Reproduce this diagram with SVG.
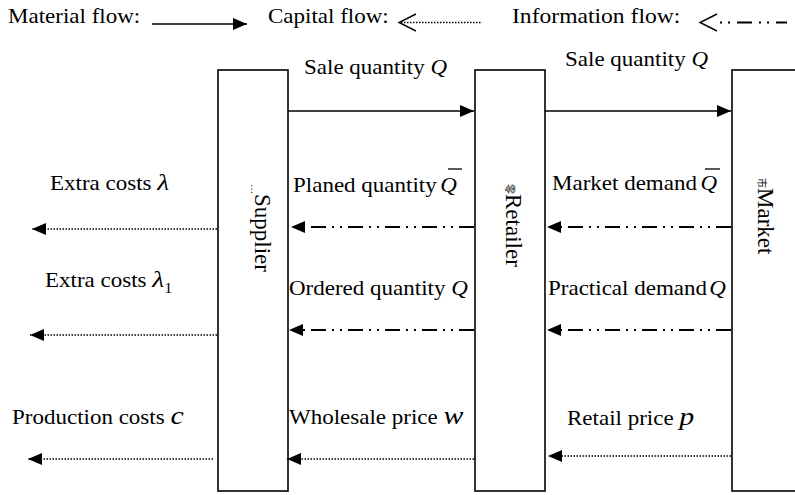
<svg xmlns="http://www.w3.org/2000/svg" width="795" height="495" viewBox="0 0 795 495">
<defs>
<style>
.t{font-family:"Liberation Serif","Times New Roman",serif;font-size:20px;fill:#000}
.v{font-family:"Liberation Serif","Times New Roman",serif;font-size:23px;fill:#000}
.m{font-style:italic}
.box{fill:#fff;stroke:#000;stroke-width:1.6}
.mat{fill:none;stroke:#000;stroke-width:1.6}
.cap{fill:none;stroke:#000;stroke-width:1.5;stroke-dasharray:1.5 1.5}
.inf{fill:none;stroke:#000;stroke-width:2;stroke-dasharray:15 6 2 6 2 6}
.chev{fill:none;stroke:#000;stroke-width:1.4}
</style>
<marker id="ah" viewBox="0 0 14 12" refX="14" refY="6" markerWidth="14" markerHeight="12" markerUnits="userSpaceOnUse" orient="auto">
<path d="M0,0 L14,6 L0,12 z" fill="#000" stroke="none"/>
</marker>
</defs>
<rect width="795" height="495" fill="#fff"/>

<g id="legend">
<text class="t" transform="translate(8,23) scale(1.15,1)">Material flow:</text>
<path class="mat" d="M152,24 H247" marker-end="url(#ah)"/>
<text class="t" transform="translate(268,23) scale(1.15,1)">Capital flow:</text>
<polyline class="chev" points="416,14 399,22.5 416,31"/>
<path class="cap" d="M401,22.5 H482"/>
<text class="t" transform="translate(512,23) scale(1.18,1)">Information flow:</text>
<polyline class="chev" points="717,14 700,22.5 717,31"/>
<path fill="none" stroke="#000" stroke-width="2" stroke-dasharray="2 6 2 7 15 7" d="M720,22.5 H787"/>
</g>

<g id="supplier">
<rect class="box" x="218" y="70" width="70" height="421"/>
<text class="v" transform="translate(255,184) rotate(90)"><tspan font-size="10" dy="4">…</tspan><tspan dy="-4">Supplier</tspan></text>
</g>
<g id="retailer">
<rect class="box" x="475" y="70" width="70" height="421"/>
<text class="v" transform="translate(506,184) rotate(90)"><tspan font-size="10" font-family="Noto Sans CJK SC, sans-serif">零</tspan><tspan>Retailer</tspan></text>
</g>
<g id="market">
<rect class="box" x="732" y="70" width="80" height="421"/>
<text class="v" transform="translate(758,178) rotate(90)"><tspan font-size="10" font-family="Noto Sans CJK SC, sans-serif">市</tspan><tspan>Market</tspan></text>
</g>

<g id="connectors">
<path class="mat" d="M288,111 H474" marker-end="url(#ah)"/>
<path class="mat" d="M545,111 H731" marker-end="url(#ah)"/>
<path class="inf" d="M474,227 H291" marker-end="url(#ah)"/>
<path class="inf" d="M731,227 H547" marker-end="url(#ah)"/>
<path class="inf" d="M474,330 H289" marker-end="url(#ah)"/>
<path class="inf" d="M731,330 H547" marker-end="url(#ah)"/>
<path class="cap" d="M217,229 H32" marker-end="url(#ah)"/>
<path class="cap" d="M217,335 H30" marker-end="url(#ah)"/>
<path class="cap" d="M213,459 H28" marker-end="url(#ah)"/>
<path class="cap" d="M474,459 H287" marker-end="url(#ah)"/>
<path class="cap" d="M731,456 H548" marker-end="url(#ah)"/>
</g>

<g id="labels">
<text class="t" transform="translate(304,74) scale(1.15,1)">Sale quantity <tspan class="m">Q</tspan></text>
<text class="t" transform="translate(565,66) scale(1.15,1)">Sale quantity <tspan class="m">Q</tspan></text>
<text class="t" transform="translate(293,192) scale(1.15,1)">Planed quantity<tspan class="m" dx="3">Q</tspan></text>
<path d="M448,169 H462" stroke="#000" stroke-width="1.3"/>
<text class="t" transform="translate(552,190) scale(1.15,1)">Market demand<tspan class="m" dx="3">Q</tspan></text>
<path d="M705,169 H720" stroke="#000" stroke-width="1.3"/>
<text class="t" transform="translate(50,190) scale(1.15,1)">Extra costs <tspan class="m" font-size="24">λ</tspan></text>
<text class="t" transform="translate(45,287) scale(1.15,1)">Extra costs <tspan class="m" font-size="24">λ</tspan><tspan font-size="14" dy="6">1</tspan></text>
<text class="t" transform="translate(289,295) scale(1.15,1)">Ordered quantity <tspan class="m">Q</tspan></text>
<text class="t" transform="translate(548,295) scale(1.15,1)">Practical demand<tspan class="m" dx="2">Q</tspan></text>
<text class="t" transform="translate(12,424) scale(1.15,1)">Production costs <tspan class="m" font-size="26">c</tspan></text>
<text class="t" transform="translate(289,424) scale(1.15,1)">Wholesale price <tspan class="m" font-size="26">w</tspan></text>
<text class="t" transform="translate(567,425) scale(1.15,1)">Retail price <tspan class="m" font-size="26">p</tspan></text>
</g>
</svg>
